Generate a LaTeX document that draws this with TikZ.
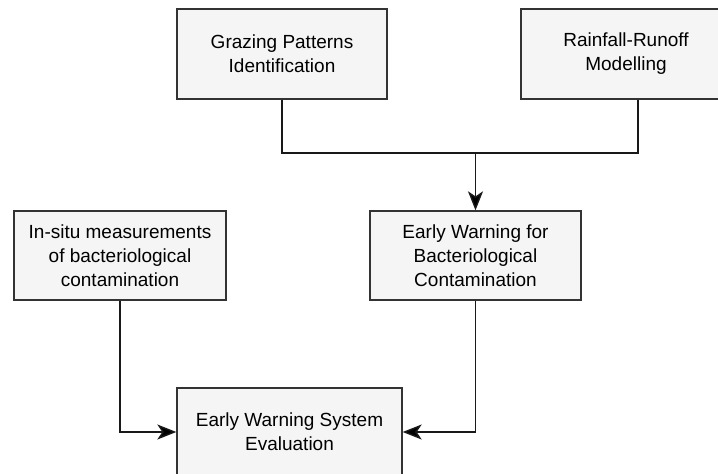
\documentclass[tikz,border=0pt]{standalone}
\usepackage{fontspec}
\setmainfont{Liberation Sans}
\usetikzlibrary{arrows.meta}
\definecolor{boxfill}{HTML}{F5F5F5}
\definecolor{boxline}{HTML}{333333}
\tikzset{
  procbox/.style={draw=boxline, fill=boxfill, line width=1.3pt, rectangle,
    align=center, inner sep=0pt, text=black,
    font=\fontsize{19pt}{24pt}\selectfont},
  link/.style={draw=black!90, line width=1.4pt},
  arrowlink/.style={link, -{Stealth[length=19pt,width=15pt,inset=5pt,fill=black]}}
}
\begin{document}
\begin{tikzpicture}[x=1pt,y=1pt]
\useasboundingbox (0,0) rectangle (718,-474);

% inputs at the top
\node[procbox, minimum width=210pt, minimum height=90pt] (graze) at (282,-54)
  {Grazing Patterns\\Identification};
\node[procbox, minimum width=234pt, minimum height=90pt] (rain) at (638,-54)
  {\hspace*{-24pt}Rainfall-Runoff\\\hspace*{-24pt}Modelling};

% middle row
\node[procbox, minimum width=212pt, minimum height=89pt] (insitu) at (120,-255.5)
  {In-situ measurements\\of bacteriological\\contamination};
\node[procbox, minimum width=211pt, minimum height=89pt] (ewbc) at (475.5,-255.5)
  {Early Warning for\\Bacteriological\\Contamination};

% evaluation at the bottom
\node[procbox, minimum width=225pt, minimum height=88pt] (ewse) at (289.5,-432)
  {Early Warning System\\Evaluation};

% merge of the two inputs
\coordinate (merge) at (475.5,-153);
\draw[link] (graze.south) |- (merge) -| (rain.south);
\draw[arrowlink] (merge) -- (ewbc.north);

% into the evaluation
\draw[arrowlink] (insitu.south) |- (ewse.west);
\draw[arrowlink] (ewbc.south) |- (ewse.east);
\end{tikzpicture}
\end{document}
